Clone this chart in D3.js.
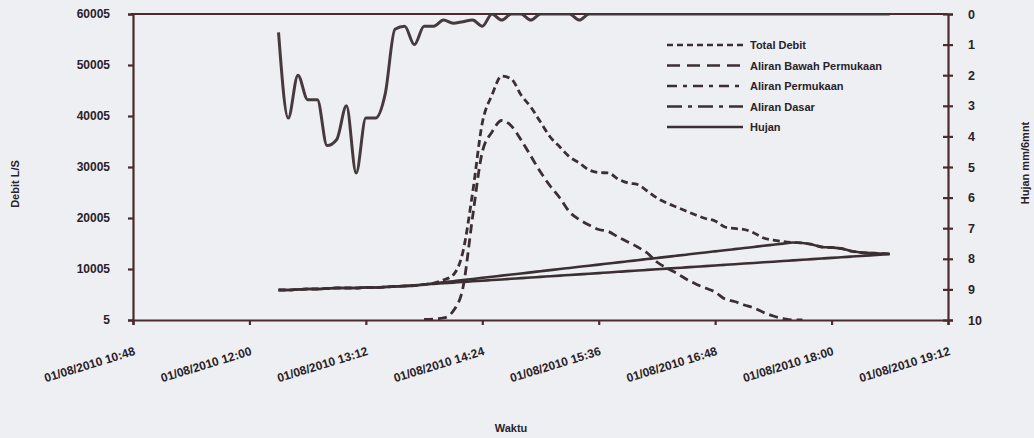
<!DOCTYPE html>
<html>
<head>
<meta charset="utf-8">
<script src="https://cdn.jsdelivr.net/npm/d3@7"></script>
<style>
  body { margin: 0; background: #eeeff2; }
  text { font-family: "Liberation Sans", Arial, sans-serif; font-weight: bold; fill: #2a2228; }
</style>
</head>
<body>
<div id="chart-area"></div>
<script>
const MARGIN = {LEFT: 133, RIGHT: 86, TOP: 14, BOTTOM: 118}
const WIDTH = 1034 - MARGIN.LEFT - MARGIN.RIGHT
const HEIGHT = 438 - MARGIN.TOP - MARGIN.BOTTOM

// 6 minute readings, 01/08/2010
const times = [
  "12:18","12:24","12:30","12:36","12:42","12:48","12:54",
  "13:00","13:06","13:12","13:18","13:24","13:30","13:36","13:42","13:48","13:54",
  "14:00","14:06","14:12","14:18","14:24","14:30","14:36","14:42","14:48","14:54",
  "15:00","15:06","15:12","15:18","15:24","15:30","15:36","15:42","15:48","15:54",
  "16:00","16:06","16:12","16:18","16:24","16:30","16:36","16:42","16:48","16:54",
  "17:00","17:06","17:12","17:18","17:24","17:30","17:36","17:42","17:48","17:54",
  "18:00","18:06","18:12","18:18","18:24","18:30","18:36"
]

const totalDebit = [
  5890, 5890, 5985, 6080, 6080, 6180, 6280, 6280, 6280, 6380, 6380, 6480, 6575, 6670, 6770, 6965,
  7260, 7850, 8830, 13340, 24910, 38630, 44120, 47850, 47260, 44120, 41770, 38830, 35890, 33930,
  31970, 30790, 29420, 28930, 28830, 27650, 26870, 26575, 25300, 23930, 22950, 22160, 21380, 20590,
  19910, 19420, 18240, 17950, 17750, 17060, 16080, 15690, 15400, 15200, 15100, 14810, 14320, 14220,
  14025, 13530, 13240, 13140, 13045, 12945
]

const aliranBawah = [
  5890, 5890, 5985, 6080, 6080, 6180, 6280, 6280, 6280, 6380, 6380, 6480, 6575, 6670, 6770, 6965,
  7180, 7400, 7615, 7830, 8050, 8265, 8480, 8700, 8915, 9130, 9350, 9565, 9780, 10000,
  10215, 10430, 10650, 10865, 11080, 11300, 11515, 11730, 11950, 12165, 12380, 12600, 12815, 13030,
  13250, 13465, 13680, 13900, 14115, 14330, 14550, 14765, 14980, 15200, 15100, 14810, 14320, 14220,
  14025, 13530, 13240, 13140, 13045, 12945
]

const aliranPermukaan = [
  null, null, null, null, null, null, null, null, null, null, null, null, null, null, null, 100,
  200, 400, 1770, 6280, 20200, 32950, 36870, 39120, 38040, 35300, 32160, 29020, 26280, 23930,
  21180, 19710, 18630, 17750, 17360, 16280, 15300, 14320, 13140, 11380, 10200, 9220, 8040, 7060,
  6280, 5490, 4120, 3630, 2950, 2360, 1475, 790, 300, 5, 5, null, null, null,
  null, null, null, null, null, null
]

const aliranDasar = [
  5890, 5890, 5985, 6080, 6080, 6180, 6280, 6280, 6280, 6380, 6380, 6480, 6575, 6670, 6770, 6965,
  7090, 7215, 7340, 7460, 7590, 7710, 7840, 7960, 8085, 8210, 8335, 8460, 8585, 8710,
  8830, 8955, 9080, 9205, 9330, 9455, 9580, 9700, 9825, 9950, 10075, 10200, 10325, 10450,
  10570, 10695, 10820, 10945, 11070, 11195, 11320, 11440, 11565, 11690, 11815, 11940, 12065, 12190,
  12310, 12435, 12560, 12685, 12810, 12945
]

// mm / 6 mnt
const hujan = [
  0.6, 3.4, 2.0, 2.8, 2.8, 4.3, 4.1, 3.0, 5.2, 3.4, 3.4, 2.6, 0.5, 0.4, 1.0, 0.4,
  0.4, 0.2, 0.3, 0.25, 0.2, 0.4, 0, 0.2, 0, 0, 0.2, 0, 0, 0,
  0, 0.2, 0, 0, 0, 0, 0, 0, 0, 0, 0, 0, 0, 0,
  0, 0, 0, 0, 0, 0, 0, 0, 0, 0, 0, 0, 0, 0,
  0, 0, 0, 0, 0, 0
]

const xTicks = ["10:48", "12:00", "13:12", "14:24", "15:36", "16:48", "18:00", "19:12"]
const yTicks = [5, 10005, 20005, 30005, 40005, 50005, 60005]
const hujanTicks = [0, 1, 2, 3, 4, 5, 6, 7, 8, 9, 10]

const legendNames = ["Total Debit", "Aliran Bawah Permukaan", "Aliran Permukaan", "Aliran Dasar", "Hujan"]
const legendDash = ["6,4", "13,7", "10,6,4,6", "15,6,4,6", null]

const INK = "#3b2f33"
const AXIS = "#4a2b2e"

const parseTime = d3.timeParse("%d/%m/%Y %H:%M")
const toDate = t => parseTime("01/08/2010 " + t)

const svg = d3.select("#chart-area").append("svg")
  .attr("width", 1034)
  .attr("height", 438)

const g = svg.append("g")
  .attr("transform", `translate(${MARGIN.LEFT}, ${MARGIN.TOP})`)

const x = d3.scaleTime()
  .domain([toDate("10:48"), toDate("19:12")])
  .range([0, WIDTH])

const y = d3.scaleLinear()
  .domain([5, 60005])
  .range([HEIGHT, 0])

const yRain = d3.scaleLinear()
  .domain([0, 10])
  .range([0, HEIGHT])

// axes
const xAxisCall = d3.axisBottom(x)
  .tickValues(xTicks.map(toDate))
  .tickSize(5)
  .tickFormat(d3.timeFormat("%d/%m/%Y %H:%M"))

const xAxisGroup = g.append("g")
  .attr("transform", `translate(0, ${HEIGHT})`)
  .call(xAxisCall)

xAxisGroup.selectAll("text")
  .attr("text-anchor", "end")
  .attr("font-size", "12px")
  .attr("dy", 0)
  .attr("transform", "translate(0, 27) rotate(-17)")

const yAxisGroup = g.append("g")
  .call(d3.axisLeft(y).tickValues(yTicks).tickSize(5).tickPadding(18).tickFormat(d3.format("d")))
yAxisGroup.selectAll("text").attr("font-size", "12px")

const rAxisGroup = g.append("g")
  .attr("transform", `translate(${WIDTH}, 0)`)
  .call(d3.axisRight(yRain).tickValues(hujanTicks).tickSize(5).tickPadding(15))
rAxisGroup.selectAll(".tick line").attr("x1", -5)
rAxisGroup.selectAll("text").attr("font-size", "12.5px")

g.selectAll(".domain, .tick line")
  .attr("stroke", AXIS)
  .attr("stroke-width", 2.2)
g.selectAll(".tick text").style("fill", "#2a2228").attr("font-family", null)

// top border
g.append("line")
  .attr("x1", -2).attr("x2", WIDTH)
  .attr("y1", 0).attr("y2", 0)
  .attr("stroke", AXIS)
  .attr("stroke-width", 2.2)

// axis titles
g.append("text")
  .attr("x", -170)
  .attr("y", -114)
  .attr("font-size", "11px")
  .attr("text-anchor", "middle")
  .attr("transform", "rotate(-90)")
  .text("Debit L/S")

g.append("text")
  .attr("x", -149)
  .attr("y", WIDTH + 81)
  .attr("font-size", "11px")
  .attr("text-anchor", "middle")
  .attr("transform", "rotate(-90)")
  .text("Hujan mm/6mnt")

g.append("text")
  .attr("x", 378)
  .attr("y", HEIGHT + 112)
  .attr("font-size", "11px")
  .attr("text-anchor", "middle")
  .text("Waktu")

// series
g.append("clipPath").attr("id", "plot-clip")
  .append("rect")
  .attr("x", 0).attr("y", 0)
  .attr("width", WIDTH).attr("height", HEIGHT)

const plot = g.append("g").attr("clip-path", "url(#plot-clip)")

const debitLine = d3.line()
  .defined(d => d.v !== null)
  .x(d => x(d.t))
  .y(d => y(d.v))
  .curve(d3.curveMonotoneX)

const rows = arr => times.map((t, i) => ({t: toDate(t), v: arr[i]}))

const series = [
  {data: aliranDasar, dash: null, width: 2.6},
  {data: aliranBawah, dash: null, width: 2.6},
  {data: aliranPermukaan, dash: "9,5", width: 2.8},
  {data: totalDebit, dash: "7,4", width: 2.8}
]

series.forEach(s => {
  plot.append("path")
    .attr("d", debitLine(rows(s.data)))
    .attr("fill", "none")
    .attr("stroke", INK)
    .attr("stroke-width", s.width)
    .attr("stroke-dasharray", s.dash)
})

const rainLine = d3.line()
  .x(d => x(d.t))
  .y(d => yRain(d.v))
  .curve(d3.curveMonotoneX)

plot.append("path")
  .attr("d", rainLine(rows(hujan)))
  .attr("fill", "none")
  .attr("stroke", "#463a3e")
  .attr("stroke-width", 3)

// legend
const legend = g.append("g")
  .attr("transform", `translate(${667 - MARGIN.LEFT}, ${45 - MARGIN.TOP})`)

legendNames.forEach((name, i) => {
  const row = legend.append("g").attr("transform", `translate(0, ${i * 20.5})`)
  row.append("line")
    .attr("x1", 0).attr("x2", 76)
    .attr("stroke", INK)
    .attr("stroke-width", 2.6)
    .attr("stroke-dasharray", legendDash[i])
  row.append("text")
    .attr("x", 83)
    .attr("y", 4)
    .attr("font-size", "11px")
    .text(name)
})
</script>
</body>
</html>
